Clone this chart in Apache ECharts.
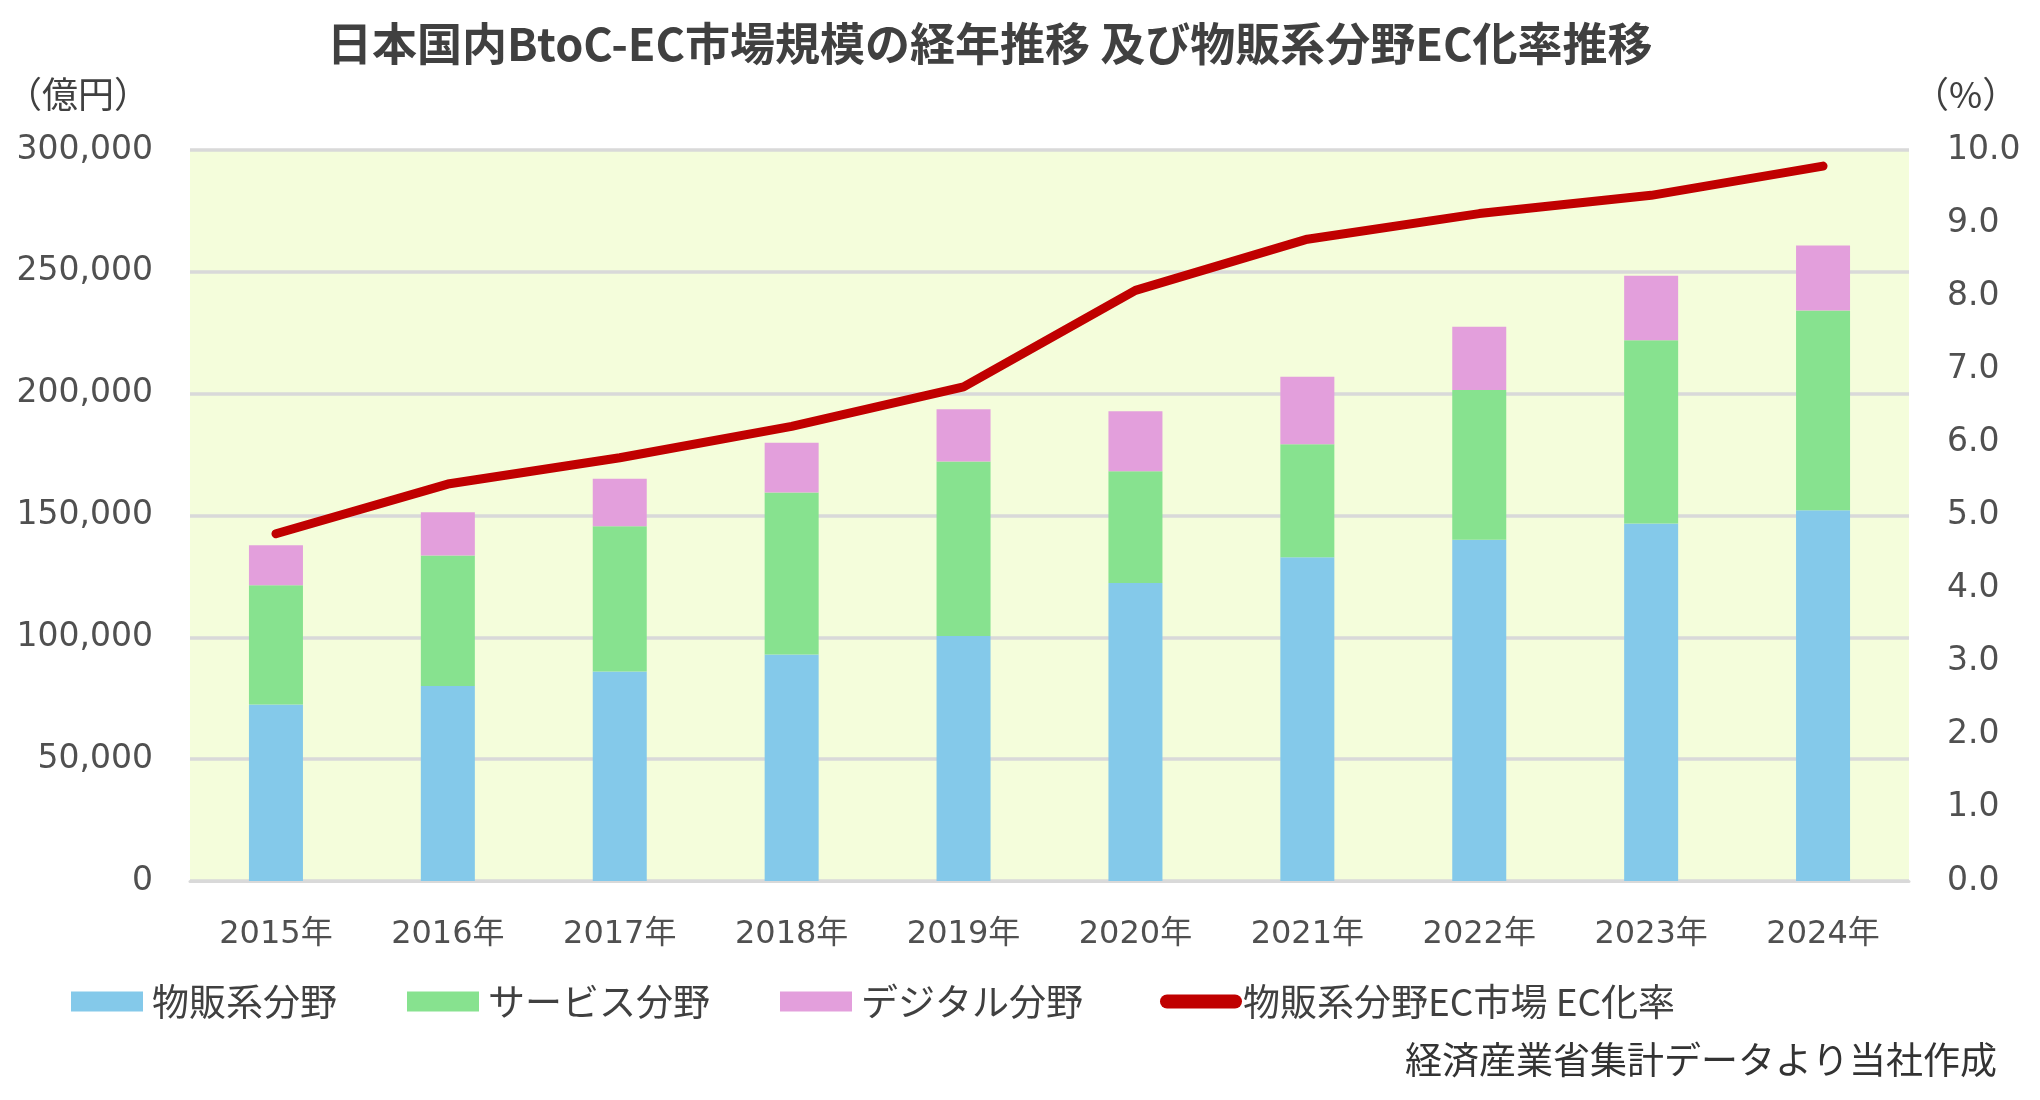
<!DOCTYPE html>
<html>
<head>
<meta charset="utf-8">
<script src="https://cdn.jsdelivr.net/npm/echarts@6/dist/echarts.min.js"></script>
<style>
html, body { margin: 0; padding: 0; background: #fff; }
#chartBox { width: 2040px; height: 1100px; }
</style>
</head>
<body>
<div id="chartBox"></div>
<script>
// 年
var years = ['2015年', '2016年', '2017年', '2018年', '2019年', '2020年', '2021年', '2022年', '2023年', '2024年']
// 市場規模（億円）
var goods = [72398, 80043, 86008, 92992, 100515, 122333, 132865, 139997, 146760, 152194]
var services = [49014, 53532, 59568, 66471, 71672, 45832, 46424, 61477, 75169, 81952]
var digital = [16334, 17782, 19478, 20382, 21422, 24614, 27661, 25974, 26506, 26712]
// 物販系分野EC化率（%）
var ecRate = [4.75, 5.43, 5.79, 6.22, 6.76, 8.08, 8.78, 9.13, 9.38, 9.78]

var numFont = 'DejaVu Sans, "Noto Sans CJK JP", sans-serif'
var jpFont = '"Noto Sans CJK JP", sans-serif'

var myChart = echarts.init(document.getElementById('chartBox'))
myChart.setOption({
  animation: false,
  backgroundColor: '#ffffff',
  title: [
    {
      text: '日本国内BtoC-EC市場規模の経年推移 及び物販系分野EC化率推移',
      left: 322,
      top: 16,
      textStyle: {
        fontFamily: jpFont,
        fontWeight: 'bold',
        fontSize: 45,
        color: '#404040'
      }
    },
    {
      text: '経済産業省集計データより当社作成',
      right: 38,
      top: 1036,
      textStyle: {
        fontFamily: jpFont,
        fontWeight: 'normal',
        fontSize: 37,
        color: '#333333'
      }
    }
  ],
  legend: [
    {
      data: ['物販系分野', 'サービス分野', 'デジタル分野'],
      left: 66,
      top: 978,
      itemWidth: 72,
      itemHeight: 20,
      itemGap: 70,
      icon: 'rect',
      textStyle: {
        fontFamily: jpFont,
        fontSize: 37,
        color: '#404040',
        padding: [0, 0, 0, 4]
      }
    },
    {
      data: ['物販系分野EC市場 EC化率'],
      left: 1155,
      top: 978,
      itemWidth: 82,
      itemHeight: 14,
      icon: 'path://M7,0 H75 A7,7 0 0 1 75,14 H7 A7,7 0 0 1 7,0 Z',
      textStyle: {
        fontFamily: jpFont,
        fontSize: 37,
        color: '#404040',
        padding: [0, 0, 0, -4]
      }
    }
  ],
  grid: {
    left: 190,
    right: 131,
    top: 150,
    bottom: 219,
    outerBoundsMode: 'none',
    show: true,
    backgroundColor: '#f4fddb',
    borderWidth: 0
  },
  xAxis: {
    type: 'category',
    data: years,
    axisTick: { show: false },
    axisLine: { show: true, lineStyle: { color: '#d9d9d9', width: 3 } },
    axisLabel: {
      margin: 38,
      fontFamily: numFont,
      fontSize: 32,
      color: '#505050'
    }
  },
  yAxis: [
    {
      type: 'value',
      min: 0,
      max: 300000,
      interval: 50000,
      name: '（億円）',
      nameLocation: 'end',
      nameGap: 38,
      nameTextStyle: {
        fontFamily: jpFont,
        fontSize: 36,
        color: '#404040',
        align: 'right',
        padding: [0, 40, 0, 0]
      },
      axisLine: { show: false },
      axisTick: { show: false },
      splitLine: { lineStyle: { color: '#d9d9d9', width: 3.5 } },
      axisLabel: {
        margin: 37,
        fontFamily: numFont,
        fontSize: 33,
        color: '#505050',
        formatter: function (v) {
          return v.toString().replace(/\B(?=(\d{3})+(?!\d))/g, ',')
        }
      }
    },
    {
      type: 'value',
      min: 0,
      max: 10,
      interval: 1,
      name: '（%）',
      nameLocation: 'end',
      nameGap: 38,
      nameTextStyle: {
        fontFamily: jpFont,
        fontSize: 36,
        color: '#404040',
        align: 'left',
        padding: [0, 0, 0, 4]
      },
      axisLine: { show: false },
      axisTick: { show: false },
      splitLine: { show: false },
      axisLabel: {
        margin: 38,
        fontFamily: numFont,
        fontSize: 33,
        color: '#505050',
        formatter: function (v) {
          return v.toFixed(1)
        }
      }
    }
  ],
  series: [
    {
      name: '物販系分野',
      type: 'bar',
      stack: 'market',
      barWidth: 54,
      itemStyle: { color: '#84c9ea' },
      data: goods
    },
    {
      name: 'サービス分野',
      type: 'bar',
      stack: 'market',
      barWidth: 54,
      itemStyle: { color: '#87e28f' },
      data: services
    },
    {
      name: 'デジタル分野',
      type: 'bar',
      stack: 'market',
      barWidth: 54,
      itemStyle: { color: '#e39fdc' },
      data: digital
    },
    {
      name: '物販系分野EC市場 EC化率',
      type: 'line',
      yAxisIndex: 1,
      symbol: 'none',
      itemStyle: { color: '#c00000' },
      lineStyle: { color: '#c00000', width: 9, cap: 'round', join: 'round' },
      z: 5,
      data: ecRate
    }
  ]
})
</script>
</body>
</html>
